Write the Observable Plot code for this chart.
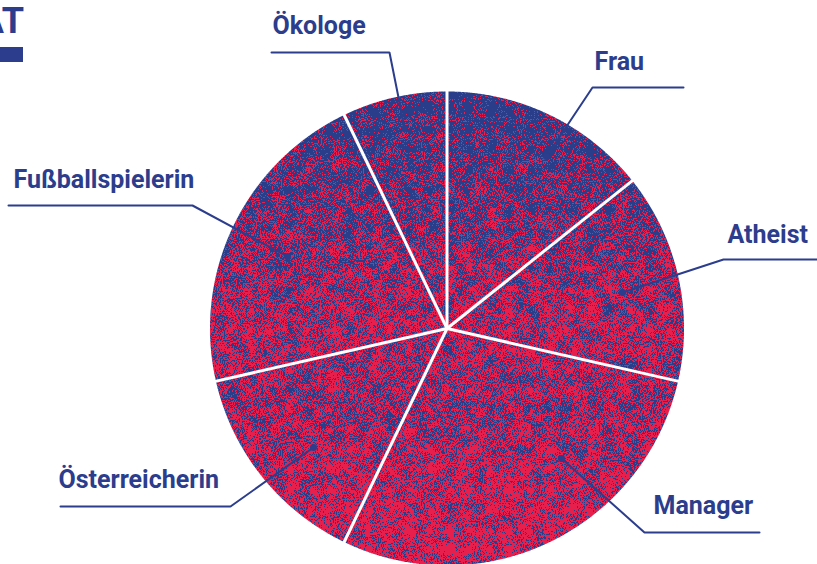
<!DOCTYPE html>
<html>
<head>
<meta charset="utf-8">
<script src="https://cdn.jsdelivr.net/npm/d3@7"></script>
<script src="https://cdn.jsdelivr.net/npm/@observablehq/plot@0.6"></script>
<style>
  html, body { margin: 0; padding: 0; background: #fff; }
  #wrap { position: relative; width: 817px; height: 564px; overflow: hidden; }
  #title { position: absolute; right: calc(817px - 24px); top: -1px; font: 700 36px Roboto, sans-serif; color: #2b3d8c; white-space: nowrap; line-height: 44px; }
  #bar { position: absolute; left: 0; top: 47px; width: 23px; height: 15px; background: #2b3d8c; }
</style>
</head>
<body>
<div id="wrap">
  <div id="title">ÄT</div>
  <div id="bar"></div>
</div>
<script>
// ---- data ----
const categories = ["Frau", "Atheist", "Manager", "Österreicherin", "Fußballspielerin", "Ökologe"];
const values = [2, 2, 4, 2, 3, 1];

// ---- layout (annotation geometry, in SVG units) ----
const W = 817, H = 564;
const cx = 446.5, cy = 328, R = 237;
const BLUE = "#2b3d8c";
const labelPos = [
  {x: 594, y: 69},   // Frau
  {x: 727, y: 242},  // Atheist
  {x: 653, y: 513},  // Manager
  {x: 58,  y: 487},  // Österreicherin
  {x: 13,  y: 187},  // Fußballspielerin
  {x: 272, y: 33}    // Ökologe
];
const leaderPaths = [
  [[683, 87], [592, 87], [546, 156]],
  [[817, 259], [723, 259], [622, 292]],
  [[759, 532], [644, 532], [561, 458]],
  [[60, 506], [230, 506], [313, 447]],
  [[8, 205], [192, 205], [287, 256]],
  [[271, 52], [389, 52], [398, 97], [404, 128]]
];

// ---- pie geometry via d3.pie ----
const arcs = d3.pie().sort(null).value(d => d)(values);
const polar = (a, r) => [cx + r * Math.sin(a), cy - r * Math.cos(a)];
const slicePts = arcs.flatMap((a, i) => {
  const pts = [{slice: categories[i], x: cx, y: cy}];
  const n = Math.ceil((a.endAngle - a.startAngle) / 0.005);
  for (let k = 0; k <= n; k++) {
    const ang = a.startAngle + (a.endAngle - a.startAngle) * k / n;
    const [x, y] = polar(ang, R);
    pts.push({slice: categories[i], x, y});
  }
  pts.push({slice: categories[i], x: cx, y: cy});
  return pts;
});
const separators = arcs.map(a => {
  const [x2, y2] = polar(a.startAngle, R + 3);
  return {x1: cx, y1: cy, x2, y2};
});
const labels = categories.map((c, i) => ({label: c, ...labelPos[i]}));
const leaders = leaderPaths.flatMap((p, i) => p.map(([x, y]) => ({label: categories[i], x, y})));
const leaderEnds = leaderPaths.map((p, i) => ({label: categories[i], x: p[p.length - 1][0], y: p[p.length - 1][1]}));

const chart = Plot.plot({
  width: W, height: H, margin: 0,
  x: {domain: [0, W], range: [0, W], axis: null},
  y: {domain: [0, H], range: [0, H], axis: null},
  marks: [
    Plot.line(slicePts, {x: "x", y: "y", z: "slice", fill: "url(#pieGrad)", stroke: "none"}),
    Plot.link(separators, {x1: "x1", y1: "y1", x2: "x2", y2: "y2", stroke: "white", strokeWidth: 3}),
    Plot.line(leaders, {x: "x", y: "y", z: "label", stroke: BLUE, strokeWidth: 2, strokeLinejoin: "miter"}),
    Plot.dot(leaderEnds, {x: "x", y: "y", r: 3.5, fill: BLUE, stroke: "none"}),
    Plot.text(labels, {x: "x", y: "y", text: "label", textAnchor: "start", lineAnchor: "bottom",
      fill: BLUE, fontSize: 25, fontWeight: 700, fontFamily: "Roboto, sans-serif"})
  ]
});
chart.style.position = "absolute";
chart.style.left = "0";
chart.style.top = "0";
chart.style.background = "transparent";

const defs = document.createElementNS("http://www.w3.org/2000/svg", "defs");
defs.innerHTML = `
  <linearGradient id="pieGrad" gradientUnits="userSpaceOnUse" x1="0" y1="92" x2="0" y2="566">
    <stop offset="0" stop-color="rgb(25,25,25)"/>
    <stop offset="0.15" stop-color="rgb(70,70,70)"/>
    <stop offset="0.35" stop-color="rgb(125,125,125)"/>
    <stop offset="0.5" stop-color="rgb(160,160,160)"/>
    <stop offset="0.66" stop-color="rgb(135,135,135)"/>
    <stop offset="0.85" stop-color="rgb(180,180,180)"/>
    <stop offset="1" stop-color="rgb(195,195,195)"/>
  </linearGradient>
  <filter id="speckle" filterUnits="userSpaceOnUse" x="0" y="0" width="${W}" height="${H}" color-interpolation-filters="sRGB">
    <feTurbulence type="fractalNoise" baseFrequency="0.95" numOctaves="2" seed="3" result="fineRaw"/>
    <feColorMatrix in="fineRaw" type="matrix" values="1 0 0 0 0  1 0 0 0 0  1 0 0 0 0  0 0 0 0 1" result="fine"/>
    <feTurbulence type="fractalNoise" baseFrequency="0.07" numOctaves="3" seed="8" result="coarseRaw"/>
    <feColorMatrix in="coarseRaw" type="matrix" values="0 1 0 0 0  0 1 0 0 0  0 1 0 0 0  0 0 0 0 1" result="coarse"/>
    <feComposite in="fine" in2="coarse" operator="arithmetic" k1="0" k2="1" k3="0.35" k4="-0.175" result="both"/>
    <feComposite in="SourceGraphic" in2="both" operator="arithmetic" k1="0" k2="1" k3="3.2" k4="-1.6" result="mix"/>
    <feComponentTransfer in="mix" result="col">
      <feFuncR type="discrete" tableValues="0.165 0.905"/>
      <feFuncG type="discrete" tableValues="0.24 0.125"/>
      <feFuncB type="discrete" tableValues="0.545 0.3"/>
    </feComponentTransfer>
    <feComposite in="col" in2="SourceAlpha" operator="in"/>
  </filter>`;
chart.insertBefore(defs, chart.firstChild);
const pieG = chart.querySelector('g[aria-label="line"]');
if (pieG) pieG.setAttribute("filter", "url(#speckle)");

const wrap = document.getElementById("wrap");
wrap.insertBefore(chart, wrap.firstChild);
</script>
</body>
</html>
